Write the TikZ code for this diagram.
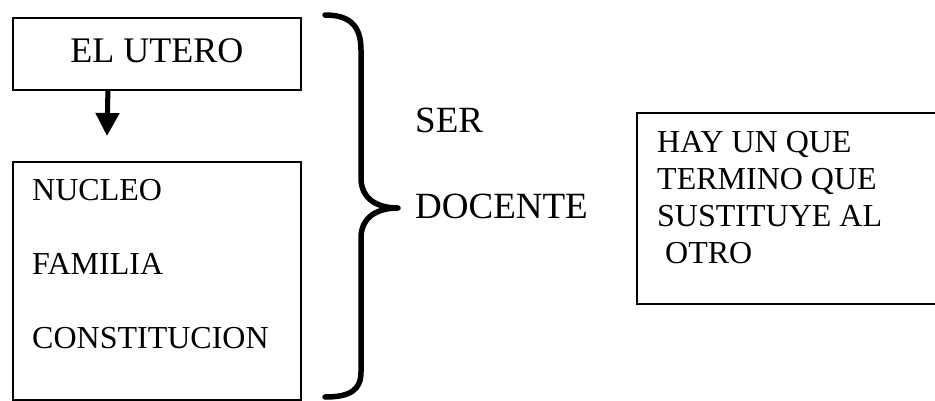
\documentclass[tikz,border=0pt]{standalone}
\usepackage{fontspec}
\setmainfont{Liberation Serif}
\usetikzlibrary{positioning,arrows.meta}

\begin{document}
\begin{tikzpicture}[
    x=1pt, y=-1pt,
    box/.style={draw, line width=1.8pt, shape=rectangle, anchor=north west, inner sep=0pt},
    txt/.style={anchor=base west, inner sep=0pt, align=left},
    brace/.style={line width=5.5pt, line cap=round, line join=round}]
  \useasboundingbox (0,0) rectangle (935,400);
  \clip (0,0) rectangle (935,400);

  \node[box, minimum width=288pt, minimum height=72pt, text height=24pt, text depth=6pt,
    font=\fontsize{36}{43}\selectfont] (utero) at (12,17) {EL UTERO};
  \coordinate (utero-down) at (107,136);
  \draw[line width=5pt, -{Triangle[width=23pt, length=23pt]}]
    ([xshift=-49pt]utero.south) -- (utero-down);

  \node[box, minimum width=288pt, minimum height=238pt] (familia) at (12,161) {};
  % base anchor = last line
  \node[txt, font=\fontsize{32}{74}\selectfont] (familia-list)
    at ([shift={(20pt,-187pt)}]familia.north west) {NUCLEO\\FAMILIA\\CONSTITUCION};

  % llave
  \coordinate (brace-tip) at (398,208);
  \draw[brace] (325,15) .. controls (350,15) and (361,26) .. (361,50) -- (361,178)
    .. controls (361,198) and (376,208) .. (brace-tip)
    .. controls (376,208) and (361,218) .. (361,238) -- (361,372)
    .. controls (361,390) and (350,397) .. (325,397);

  \node[txt, font=\fontsize{37}{86}\selectfont] (ser) at (415,218) {SER\\DOCENTE};

  \node[box, minimum width=330pt, minimum height=191pt] (termino) at (636,112) {};
  \node[txt, font=\fontsize{32}{36.7}\selectfont] (termino-text)
    at ([shift={(21pt,-151pt)}]termino.north west)
    {HAY UN QUE\\TERMINO QUE\\SUSTITUYE AL\\\hspace*{8pt}OTRO};
\end{tikzpicture}
\end{document}
